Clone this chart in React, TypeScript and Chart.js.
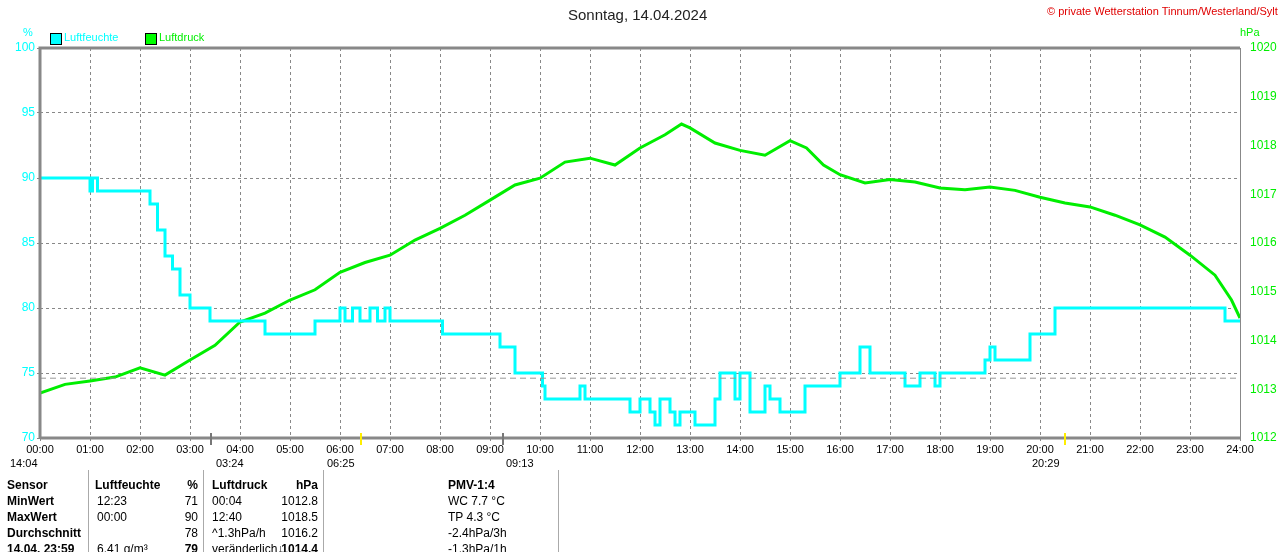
import React, { useEffect, useRef } from "react";
import { Chart, registerables } from "chart.js";
Chart.register(...registerables);

const humHours = [0,1.0,1.05,1.15,2.2,2.35,2.5,2.65,2.8,3.0,3.4,4.5,5.5,6.0,6.1,6.25,6.4,6.6,6.75,6.9,7.0,8.0,8.05,8.8,9.2,9.5,10.0,10.05,10.1,10.5,10.8,10.9,11.0,11.8,12.0,12.2,12.3,12.4,12.6,12.7,12.8,13.0,13.1,13.5,13.6,13.9,14.0,14.2,14.5,14.6,14.8,15.3,15.6,16.0,16.4,16.6,17.2,17.3,17.6,17.9,18.0,18.9,19.0,19.1,19.8,20.3,23.7,24];
const humVals = [90,89,90,89,88,86,84,83,81,80,79,78,79,80,79,80,79,80,79,80,79,79,78,78,77,75,75,74,73,73,74,73,73,72,73,72,71,73,72,71,72,72,71,73,75,73,75,72,74,73,72,74,74,75,77,75,75,74,75,74,75,76,77,76,78,80,79,79];
const presHours = [0,0.5,1,1.5,2,2.5,3,3.5,4,4.5,5,5.5,6,6.5,7,7.5,8,8.5,9,9.5,10,10.5,11,11.5,12,12.5,12.83,13,13.5,14,14.5,15,15.33,15.67,16,16.5,17,17.5,18,18.5,19,19.5,20,20.5,21,21.5,22,22.5,23,23.5,23.83,24];
const presVals = [1012.92,1013.1,1013.17,1013.25,1013.44,1013.29,1013.6,1013.9,1014.38,1014.56,1014.83,1015.04,1015.4,1015.6,1015.75,1016.06,1016.3,1016.57,1016.88,1017.19,1017.33,1017.66,1017.74,1017.6,1017.95,1018.22,1018.44,1018.36,1018.05,1017.9,1017.8,1018.1,1017.95,1017.6,1017.4,1017.23,1017.3,1017.25,1017.13,1017.09,1017.15,1017.08,1016.94,1016.82,1016.74,1016.57,1016.37,1016.12,1015.75,1015.34,1014.83,1014.46];
const refLine = 74.6;
const xTicks = ["00:00","01:00","02:00","03:00","04:00","05:00","06:00","07:00","08:00","09:00","10:00","11:00","12:00","13:00","14:00","15:00","16:00","17:00","18:00","19:00","20:00","21:00","22:00","23:00","24:00"];

const F = "'Liberation Sans', Arial, sans-serif";
const abs = (x: number, y: number, extra: any = {}) => ({ position: "absolute" as const, left: x, top: y, ...extra });

const frame = {
  id: "frame",
  afterDraw(c: any) {
    const { ctx, chartArea: a } = c;
    ctx.save();
    ctx.strokeStyle = "#888";
    ctx.lineWidth = 3;
    ctx.beginPath();
    ctx.moveTo(a.left, a.bottom); ctx.lineTo(a.left, a.top); ctx.lineTo(a.right, a.top);
    ctx.moveTo(a.left, a.bottom); ctx.lineTo(a.right, a.bottom);
    ctx.stroke();
    ctx.lineWidth = 1;
    ctx.beginPath(); ctx.moveTo(a.right + 0.5, a.top); ctx.lineTo(a.right + 0.5, a.bottom); ctx.stroke();
    ctx.restore();
  },
};

export default function App() {
  const ref = useRef<HTMLCanvasElement>(null);
  useEffect(() => {
    document.body.style.margin = "0";
    const grid = { color: "#888", drawTicks: true, tickLength: 3 };
    const border = { display: false, dash: [3, 3] };
    const chart = new Chart(ref.current!, {
      type: "line",
      plugins: [frame],
      data: {
        datasets: [
          { data: [{ x: 0, y: refLine }, { x: 24, y: refLine }], borderColor: "#999", borderDash: [6, 4], borderWidth: 1, pointRadius: 0, yAxisID: "y" },
          { data: humHours.map((h, i) => ({ x: h, y: humVals[i] })), stepped: true, borderColor: "#00ffff", borderWidth: 3, pointRadius: 0, yAxisID: "y" },
          { data: presHours.map((h, i) => ({ x: h, y: presVals[i] })), borderColor: "#00ee00", borderWidth: 3, pointRadius: 0, tension: 0, yAxisID: "y1" },
        ],
      },
      options: {
        animation: false, responsive: false, maintainAspectRatio: false,
        layout: { padding: { top: 48, left: 0, right: 0, bottom: 0 } },
        plugins: { legend: { display: false }, title: { display: false }, tooltip: { enabled: false } },
        scales: {
          x: {
            type: "linear", min: 0, max: 24,
            afterFit: (s: any) => { s.height = 114; },
            afterBuildTicks: (s: any) => { s.ticks = xTicks.map((_, i) => ({ value: i })); },
            ticks: { color: "#000", font: { family: F, size: 11 }, padding: 2, maxRotation: 0, autoSkip: false, callback: (v: any) => xTicks[v] },
            grid, border,
          },
          y: {
            position: "left", min: 70, max: 100,
            afterFit: (s: any) => { s.width = 40; },
            ticks: { stepSize: 5, color: "#00ffff", font: { family: F, size: 12 }, padding: 2 },
            grid, border,
          },
          y1: {
            position: "right", min: 1012, max: 1020,
            afterFit: (s: any) => { s.width = 40; },
            ticks: { stepSize: 1, color: "#00ee00", font: { family: F, size: 12 }, padding: 2, callback: (v: any) => String(v) },
            grid: { display: false }, border: { display: false },
          },
        },
      },
    });
    return () => chart.destroy();
  }, []);

  const t = { fontFamily: F, fontSize: 12 };
  const b = { ...t, fontWeight: "bold" as const };
  const rows = [
    ["Sensor", "Luftfeuchte", "%", "Luftdruck", "hPa", "PMV-1:4"],
    ["MinWert", " 12:23", "71", " 00:04", "1012.8", "WC 7.7 °C"],
    ["MaxWert", " 00:00", "90", " 12:40", "1018.5", "TP 4.3 °C"],
    ["Durchschnitt", "", "78", "^1.3hPa/h", "1016.2", "-2.4hPa/3h"],
    ["14.04. 23:59", "6.41 g/m³", "79", "veränderlich↓", "1014.4", "-1.3hPa/1h"],
  ];
  return (
    <div style={{ position: "relative", width: 1280, height: 552, overflow: "hidden", background: "#fff", fontFamily: F }}>
      <canvas ref={ref} width={1280} height={552} style={{ position: "absolute", left: 0, top: 0, width: 1280, height: 552 }} />
      <div style={abs(568, 6, { fontSize: 15, color: "#222" })}>Sonntag, 14.04.2024</div>
      <div style={abs(1047, 5, { fontSize: 11, color: "#e00000" })}>© private Wetterstation Tinnum/Westerland/Sylt</div>
      <div style={abs(23, 26, { fontSize: 11, color: "#00ffff" })}>%</div>
      <div style={abs(1240, 26, { fontSize: 11, color: "#00ee00" })}>hPa</div>
      <div style={abs(50, 33, { width: 10, height: 10, background: "#00ffff", border: "1px solid #000" })} />
      <div style={abs(64, 31, { fontSize: 11, color: "#00ffff" })}>Luftfeuchte</div>
      <div style={abs(145, 33, { width: 10, height: 10, background: "#00ff00", border: "1px solid #000" })} />
      <div style={abs(159, 31, { fontSize: 11, color: "#00ee00" })}>Luftdruck</div>
      {[[10, "14:04"], [216, "03:24"], [327, "06:25"], [506, "09:13"], [1032, "20:29"]].map(([x, s]) => (
        <div key={s as string} style={abs(x as number, 457, { fontSize: 11 })}>{s}</div>
      ))}
      {[360, 1064].map(x => <div key={x} style={abs(x, 433, { width: 2, height: 12, background: "#ffee00" })} />)}
      {[210, 502].map(x => <div key={x} style={abs(x, 433, { width: 2, height: 12, background: "#777" })} />)}
      {[88, 203, 323, 558].map(x => <div key={x} style={abs(x, 470, { width: 1, height: 82, background: "#aaa" })} />)}
      {rows.map((r, i) => {
        const y = 478 + i * 16;
        const st = i === 0 || i === 4 ? b : t;
        return (
          <React.Fragment key={i}>
            <div style={abs(7, y, b)}>{r[0]}</div>
            <div style={abs(i === 0 ? 95 : 97, y, i === 0 ? b : t)}>{r[1]}</div>
            <div style={abs(150, y, { ...(i === 0 || i === 4 ? b : t), width: 48, textAlign: "right" })}>{r[2]}</div>
            <div style={abs(212, y, i === 0 ? b : t)}>{r[3]}</div>
            <div style={abs(260, y, { ...st, width: 58, textAlign: "right" })}>{r[4]}</div>
            <div style={abs(448, y, i === 0 ? b : t)}>{r[5]}</div>
          </React.Fragment>
        );
      })}
    </div>
  );
}
